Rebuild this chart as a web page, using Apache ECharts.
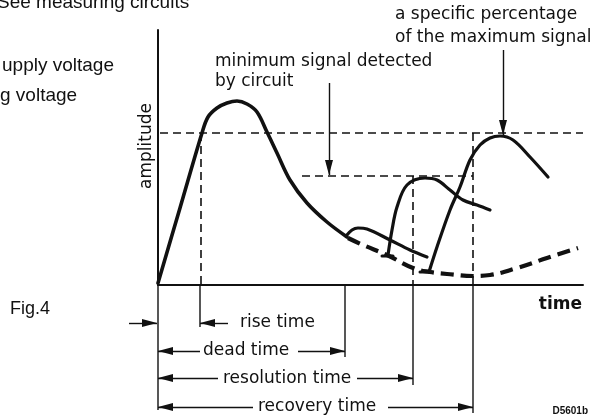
<!DOCTYPE html>
<html><head><meta charset="utf-8">
<script src="https://cdn.jsdelivr.net/npm/echarts@6/dist/echarts.min.js"></script>
<style>html,body{margin:0;padding:0;background:#fff}#c{width:612px;height:419px}</style>
</head><body><div id="c"></div>
<script>
// time (x) and amplitude (y) in arbitrary units
const mainPulse = [[0,2],[22,77],[44,152],[50,168],[59,177],[69,182],[79,184],[89,181],[99,173],[109,153],[119,132],[132,105],[149,82],[169,63],[189,48]];
const smallPulse = [[188,49],[194,55],[200,57],[209,56],[232,45],[252,35],[269,28]];
const thirdPulse = [[230,30],[234,55],[239,78],[249,100],[267,107],[279,105],[292,95],[305,85],[319,80],[332,75]];
const fourthPulse = [[271,13],[279,38],[292,75],[302,98],[312,125],[322,140],[332,147],[342,149],[355,145],[372,128],[390,108]];
const recoveryBaseline = [[190,47],[205,40],[229,30],[255,17],[272,13],[289,11],[315,9],[332,10],[359,17],[389,27],[420,37]];
const triggerCaps = [[[224,29],[235,29]],[[262,13],[274,13]]];
const guideLines = [[[2,152],[425,152]],[[43,152],[43,0]],[[144,109],[315,109]],[[255,109],[255,0]],[[315,152],[315,0]]];
const markerLines = [[[0,0],[0,-125]],[[42,0],[42,-42]],[[187,0],[187,-72]],[[255,0],[255,-100]],[[315,0],[315,-128]]];
const arrows = [
  [[-29,-38],[-1,-38]], [[70,-38],[42,-38]],
  [[42,-66],[0,-66]], [[140,-66],[187,-66]],
  [[60,-93],[0,-93]], [[199,-93],[255,-93]],
  [[95,-122],[0,-122]], [[230,-122],[315,-122]],
  [[171,202],[171,110]], [[345,235],[345,150]]
];
const labels = ['rise time','dead time','resolution time','recovery time'];

const ink = '#111';
const arrowPath = 'path://M-15,-15 M15,15 M0,0 L4,15 L-4,15 Z';
const base = {type:'line', showSymbol:false, symbol:'none', clip:false, silent:true, animation:false};
const series = [];
function solid(d, w, smooth){ series.push(Object.assign({}, base, {data:d, smooth:smooth||0, lineStyle:{color:ink,width:w,cap:'round',join:'round'}})); }
solid(mainPulse, 3.6, 0.35);
solid(smallPulse, 3.2, 0.35);
solid(thirdPulse, 3.2, 0.35);
solid(fourthPulse, 3.2, 0.35);
triggerCaps.forEach(c => solid(c, 3, 0));
series.push(Object.assign({}, base, {data:recoveryBaseline, smooth:0.4, lineStyle:{color:ink,width:4.2,type:[13,7]}}));
guideLines.forEach(g => series.push(Object.assign({}, base, {data:g, lineStyle:{color:ink,width:1.6,type:[8,5]}})));
markerLines.forEach(m => series.push(Object.assign({}, base, {data:m, lineStyle:{color:ink,width:1.4}})));
series.push({type:'lines', coordinateSystem:'cartesian2d', polyline:false, clip:false, silent:true, animation:false,
  symbol:['none', arrowPath], symbolSize:30,
  lineStyle:{color:ink, width:1.4, opacity:1},
  data: arrows.map(c => ({coords:c}))});

const diag = '17px "DejaVu Sans"';
const arial = '"Liberation Sans"';
function txt(text, x, y, font, align, extra){
  return Object.assign({type:'text', x:x, y:y, silent:true, style:{text:text, font:font, fill:ink, textAlign:align||'left', textVerticalAlign:'middle'}}, extra||{});
}
const graphic = [
  txt('See measuring circuits', -3, 3, '19px ' + arial),
  txt('upply voltage', 2, 66, '19px ' + arial),
  txt('g voltage', 0, 96, '19px ' + arial),
  txt('Fig.4', 10, 309, '18px ' + arial),
  txt('a specific percentage', 395, 15, diag),
  txt('of the maximum signal', 395, 38, diag),
  txt('minimum signal detected', 215, 62, diag),
  txt('by circuit', 215, 82, diag),
  txt(labels[0], 240, 323, diag),
  txt(labels[1], 203, 351, diag),
  txt(labels[2], 223, 379, diag),
  txt(labels[3], 258, 407, diag),
  txt('time', 582, 305, '600 17px "DejaVu Sans"', 'right'),
  txt('D5601b', 588, 411, 'bold 10px ' + arial, 'right'),
  txt('amplitude', 147, 146, diag, 'center', {rotation: Math.PI/2})
];

const chart = echarts.init(document.getElementById('c'), null, {renderer:'canvas'});
chart.setOption({
  backgroundColor:'#fff',
  animation:false,
  grid:{left:158, top:30, width:425, height:255},
  xAxis:{type:'value', min:0, max:425, axisLine:{show:true, onZero:false, lineStyle:{color:ink,width:2}}, axisTick:{show:false}, axisLabel:{show:false}, splitLine:{show:false}},
  yAxis:{type:'value', min:0, max:255, axisLine:{show:true, onZero:false, lineStyle:{color:ink,width:2}}, axisTick:{show:false}, axisLabel:{show:false}, splitLine:{show:false}},
  series: series,
  graphic: graphic
});
</script></body></html>
